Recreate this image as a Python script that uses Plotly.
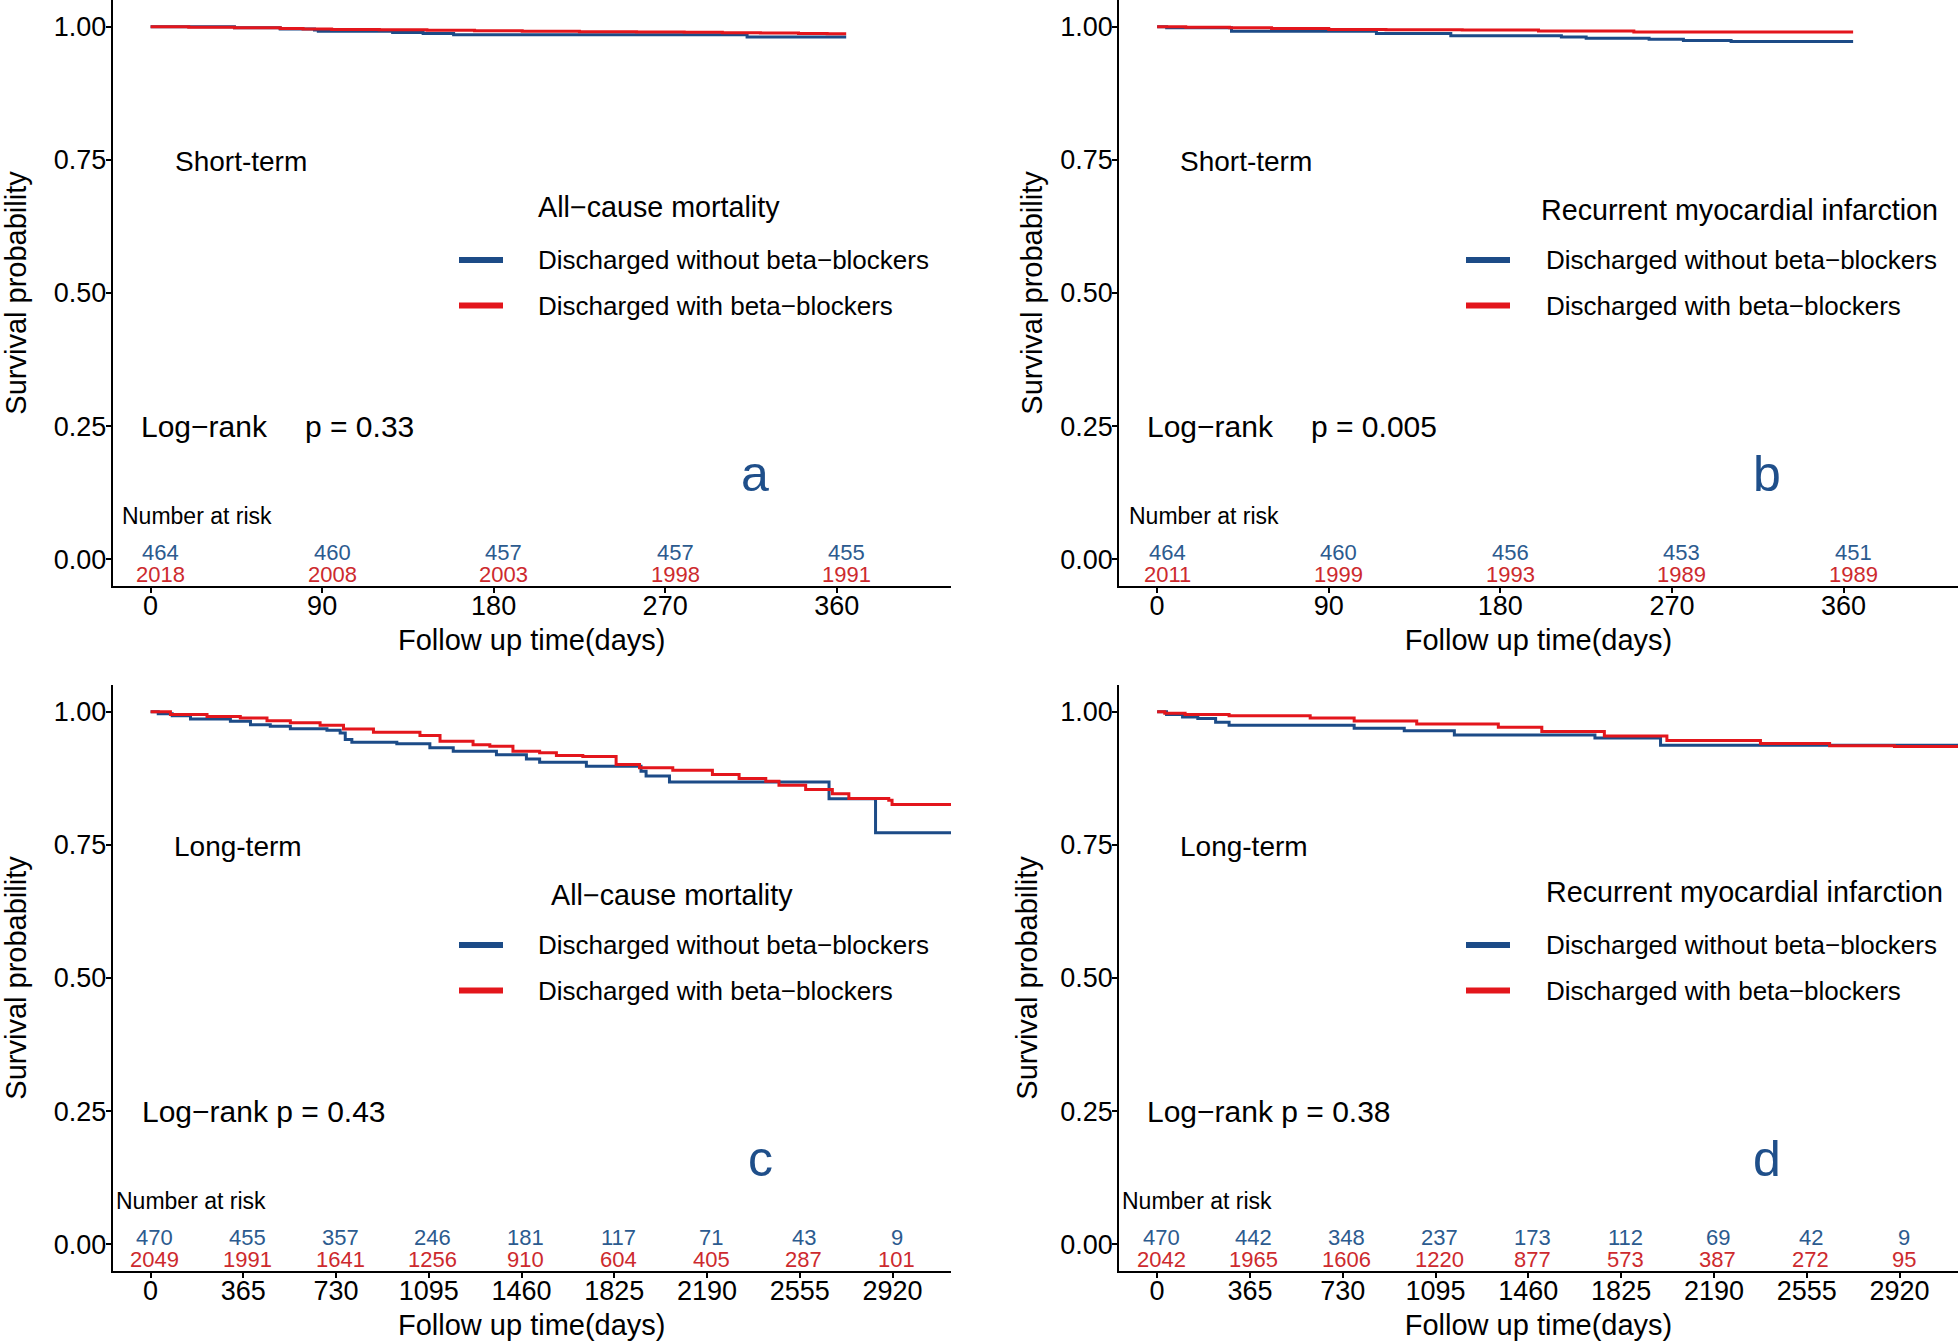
import plotly.graph_objects as go

W, H = 1960, 1344
FONT = "Liberation Sans, Arial, Helvetica, sans-serif"
BLUE = "#1c4b87"
RED = "#e3161c"
BLUE_TXT = "#2c5b8f"
RED_TXT = "#cd2a2e"
LETTER = "#1f4f8a"

# ---------------- data ----------------
# Panel a: short-term, all-cause mortality
a_blue_t = [0, 44, 68, 86, 88, 127, 143, 159, 313, 365]
a_blue_s = [1.0, 0.9978, 0.9957, 0.9935, 0.9914, 0.9892, 0.9871, 0.9849, 0.9806, 0.9806]
a_red_t = [0, 20, 44, 68, 80, 95, 120, 145, 170, 195, 225, 255, 280, 300, 320, 340, 355, 365]
a_red_s = [1.0, 0.9990, 0.9980, 0.9965, 0.9955, 0.9945, 0.9940, 0.9930, 0.9925, 0.9915,
           0.9905, 0.9900, 0.9895, 0.9885, 0.9880, 0.9872, 0.9866, 0.9866]

# Panel b: short-term, recurrent MI
b_blue_t = [0, 5, 39, 115, 154, 212, 225, 258, 276, 301, 365]
b_blue_s = [1.0, 0.9978, 0.9914, 0.9871, 0.9828, 0.9806, 0.9784, 0.9763, 0.9741, 0.9720, 0.9720]
b_red_t = [0, 15, 38, 60, 90, 120, 160, 200, 250, 365]
b_red_s = [1.0, 0.9990, 0.9980, 0.9965, 0.9945, 0.9940, 0.9935, 0.9920, 0.9900, 0.9900]

# Panel c: long-term, all-cause mortality
c_blue_t = [0, 30, 85, 157, 314, 393, 471, 550, 694, 746, 766, 792, 969, 1099, 1191, 1361,
            1479, 1531, 1715, 1930, 1950, 2042, 2670, 2853, 3150]
c_blue_s = [1.0, 0.996, 0.9925, 0.986, 0.982, 0.9756, 0.9725, 0.968, 0.965, 0.960, 0.9475,
            0.9425, 0.9395, 0.932, 0.9257, 0.919, 0.911, 0.905, 0.8975, 0.888, 0.879, 0.868,
            0.8364, 0.7727, 0.7727]
c_red_t = [0, 78, 222, 353, 458, 550, 667, 759, 877, 1060, 1139, 1269, 1335, 1426, 1531, 1597,
           1701, 1832, 1924, 2055, 2211, 2316, 2421, 2473, 2578, 2683, 2748, 2905, 2918, 3150]
c_red_s = [1.0, 0.9944, 0.991, 0.988, 0.983, 0.979, 0.9744, 0.9675, 0.9613, 0.955, 0.9444,
           0.938, 0.935, 0.9257, 0.9226, 0.9175, 0.916, 0.9007, 0.8945, 0.890, 0.882, 0.8745,
           0.8694, 0.862, 0.8538, 0.8457, 0.837, 0.8338, 0.8257, 0.8257]

# Panel d: long-term, recurrent MI
d_blue_t = [0, 37, 100, 160, 230, 283, 775, 972, 1169, 1722, 1980, 3150]
d_blue_s = [1.0, 0.9945, 0.990, 0.987, 0.980, 0.9745, 0.969, 0.9643, 0.956, 0.9505, 0.937, 0.937]
d_red_t = [0, 30, 110, 283, 602, 775, 1021, 1342, 1513, 1759, 2005, 2373, 2645, 2900, 3150]
d_red_s = [1.0, 0.997, 0.9945, 0.9925, 0.988, 0.9826, 0.977, 0.9706, 0.9625, 0.9545, 0.946,
           0.940, 0.936, 0.9345, 0.9345]

# Risk tables
short_ticks = [0, 90, 180, 270, 360]
long_ticks = [0, 365, 730, 1095, 1460, 1825, 2190, 2555, 2920]
a_risk_blue = [464, 460, 457, 457, 455]
a_risk_red = [2018, 2008, 2003, 1998, 1991]
b_risk_blue = [464, 460, 456, 453, 451]
b_risk_red = [2011, 1999, 1993, 1989, 1989]
c_risk_blue = [470, 455, 357, 246, 181, 117, 71, 43, 9]
c_risk_red = [2049, 1991, 1641, 1256, 910, 604, 405, 287, 101]
d_risk_blue = [470, 442, 348, 237, 173, 112, 69, 42, 9]
d_risk_red = [2042, 1965, 1606, 1220, 877, 573, 387, 272, 95]

y_ticks = [0, 0.25, 0.5, 0.75, 1.0]
y_tick_labels = ["0.00", "0.25", "0.50", "0.75", "1.00"]
group_labels = ["Discharged without beta\u2212blockers", "Discharged with beta\u2212blockers"]

panels = [
    dict(key="", blue=(a_blue_t, a_blue_s), red=(a_red_t, a_red_s), ticks=short_ticks,
         rb=a_risk_blue, rr=a_risk_red, rng=[-20, 420], term="Short-term",
         lr=("Log\u2212rank", "p = 0.33"), letter="a", outcome="All\u2212cause mortality"),
    dict(key="2", blue=(b_blue_t, b_blue_s), red=(b_red_t, b_red_s), ticks=short_ticks,
         rb=b_risk_blue, rr=b_risk_red, rng=[-20, 420], term="Short-term",
         lr=("Log\u2212rank", "p = 0.005"), letter="b", outcome="Recurrent myocardial infarction"),
    dict(key="3", blue=(c_blue_t, c_blue_s), red=(c_red_t, c_red_s), ticks=long_ticks,
         rb=c_risk_blue, rr=c_risk_red, rng=[-150, 3150], term="Long-term",
         lr=("Log\u2212rank p = 0.43", None), letter="c", outcome="All\u2212cause mortality"),
    dict(key="4", blue=(d_blue_t, d_blue_s), red=(d_red_t, d_red_s), ticks=long_ticks,
         rb=d_risk_blue, rr=d_risk_red, rng=[-150, 3150], term="Long-term",
         lr=("Log\u2212rank p = 0.38", None), letter="d", outcome="Recurrent myocardial infarction"),
]

# ---------------- layout geometry (pixels) ----------------
def px(x):
    return x / W

def py(y):
    return 1 - y / H

x_doms = [[px(112.5), px(951)], [px(1119), px(1958)], [px(112.5), px(951)], [px(1119), px(1958)]]
y_doms = [[py(586), 1.0], [py(586), 1.0], [py(1271), py(685)], [py(1271), py(685)]]
y_standoff = [38, 9, 34, 14]
risk_shift = [10, 10, 4, 4]
# legend positions: (key_x0, key_x1, text_x, title_x, title_y, blue_y, red_y)
legend_pos = [
    (459, 503, 536, 536, 207, 260, 305.6),
    (1466, 1510, 1544, 1539, 210, 260, 305.6),
    (459, 503, 536, 549, 895, 945, 990.5),
    (1466, 1510, 1544, 1544, 892, 945, 990.5),
]
term_x = [11.5, 11, 86, 83]
lr_x = [(-6, 80), (-6.5, 79.4), (-43, None), (-49, None)]
nar_x = [-16, -16, -143, -147]
letter_x = [317, 320, 2399, 2397]

fig = go.Figure()
annotations = []
shapes = []
layout = dict(
    width=W, height=H,
    margin=dict(l=0, r=0, t=0, b=0, pad=0, autoexpand=False),
    paper_bgcolor="white", plot_bgcolor="white",
    showlegend=False,
    font=dict(family=FONT, color="black", size=26),
)

for i, p in enumerate(panels):
    k = p["key"]
    xr, yr = "x" + k, "y" + k
    fig.add_trace(go.Scatter(x=p["blue"][0], y=p["blue"][1], mode="lines", line_shape="hv",
                             line=dict(color=BLUE, width=3), xaxis=xr, yaxis=yr,
                             name=group_labels[0]))
    fig.add_trace(go.Scatter(x=p["red"][0], y=p["red"][1], mode="lines", line_shape="hv",
                             line=dict(color=RED, width=3), xaxis=xr, yaxis=yr,
                             name=group_labels[1]))

    # risk table numbers (placed at the time ticks)
    for vals, col, yy in [(p["rb"], BLUE_TXT, 0.0135), (p["rr"], RED_TXT, -0.029)]:
        for t, v in zip(p["ticks"], vals):
            annotations.append(dict(x=t, y=yy, xref=xr, yref=yr, text=str(v),
                                    xshift=risk_shift[i], showarrow=False,
                                    xanchor="center", yanchor="middle",
                                    font=dict(size=22, color=col, family=FONT)))

    layout["xaxis" + k] = dict(
        domain=x_doms[i], anchor=yr, range=p["rng"], tickvals=p["ticks"],
        ticktext=[str(t) for t in p["ticks"]], automargin=False,
        showline=True, linecolor="black", linewidth=1.5, mirror=False,
        ticks="outside", ticklen=5, tickwidth=1.5, tickcolor="black",
        ticklabelstandoff=-10,
        showgrid=False, zeroline=False,
        tickfont=dict(size=27, color="black", family=FONT),
        title=dict(text="Follow up time(days)", font=dict(size=29, color="black", family=FONT),
                   standoff=10),
    )
    layout["yaxis" + k] = dict(
        domain=y_doms[i], anchor=xr, range=[-0.05, 1.05], tickvals=y_ticks,
        ticktext=y_tick_labels, automargin=False,
        showline=True, linecolor="black", linewidth=1.5, mirror=False,
        ticks="outside", ticklen=5, tickwidth=1.5, tickcolor="black",
        ticklabelstandoff=-6,
        showgrid=False, zeroline=False,
        tickfont=dict(size=27, color="black", family=FONT),
        title=dict(text="Survival probability", font=dict(size=29, color="black", family=FONT),
                   standoff=y_standoff[i]),
    )

    # in-plot texts
    annotations.append(dict(x=term_x[i], y=0.746, xref=xr, yref=yr, text=p["term"],
                            showarrow=False, xanchor="left", yanchor="middle",
                            font=dict(size=28, color="black", family=FONT)))
    lx0, lx1 = lr_x[i]
    annotations.append(dict(x=lx0, y=0.25, xref=xr, yref=yr, text=p["lr"][0],
                            showarrow=False, xanchor="left", yanchor="middle",
                            font=dict(size=30, color="black", family=FONT)))
    if p["lr"][1] is not None:
        annotations.append(dict(x=lx1, y=0.25, xref=xr, yref=yr, text=p["lr"][1],
                                showarrow=False, xanchor="left", yanchor="middle",
                                font=dict(size=30, color="black", family=FONT)))
    annotations.append(dict(x=nar_x[i], y=0.082, xref=xr, yref=yr, text="Number at risk",
                            showarrow=False, xanchor="left", yanchor="middle",
                            font=dict(size=23, color="black", family=FONT)))
    annotations.append(dict(x=letter_x[i], y=0.16, xref=xr, yref=yr, text=p["letter"],
                            showarrow=False, xanchor="center", yanchor="middle",
                            font=dict(size=50, color=LETTER, family=FONT)))

    # legend (drawn manually for each panel)
    kx0, kx1, tx, ttx, tty, by, ry = legend_pos[i]
    annotations.append(dict(x=px(ttx), y=py(tty), xref="paper", yref="paper", text=p["outcome"],
                            showarrow=False, xanchor="left", yanchor="middle",
                            font=dict(size=28.7, color="black", family=FONT)))
    for lab, col, yy in [(group_labels[0], BLUE, by), (group_labels[1], RED, ry)]:
        shapes.append(dict(type="line", xref="paper", yref="paper", x0=px(kx0), x1=px(kx1),
                           y0=py(yy), y1=py(yy), line=dict(color=col, width=6)))
        annotations.append(dict(x=px(tx), y=py(yy), xref="paper", yref="paper", text=lab,
                                showarrow=False, xanchor="left", yanchor="middle",
                                font=dict(size=26, color="black", family=FONT)))

layout["annotations"] = annotations
layout["shapes"] = shapes
fig.update_layout(**layout)
fig.write_html(
    "out.html",
    config={"displayModeBar": False},
    post_script="document.body.style.margin='0px';document.body.style.padding='0px';"
                "document.body.style.overflow='hidden';",
)
